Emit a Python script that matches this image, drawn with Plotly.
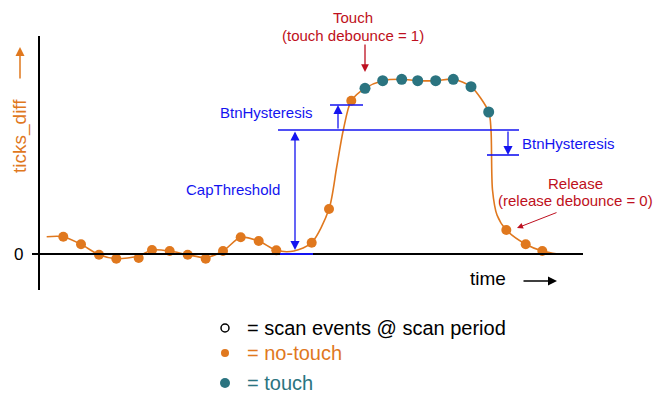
import plotly.graph_objects as go

# samples before the touch (no-touch, orange)
t_before = [24.3, 42, 60, 77.3, 99.7, 113, 130.7, 148.7, 166.7, 184, 201.7, 219.7, 237.3, 272.7, 290, 312.3]
v_before = [17.3, 9.7, -0.7, -4.7, -4, 4, 3, -0.7, -4.7, 3, 16.7, 13, 3.7, 11.3, 45, 153.3]

# samples while touched (teal)
t_touch = [326, 343.7, 362.7, 378.7, 396.7, 414.3, 432, 449.7]
v_touch = [165.7, 173.3, 174.7, 173.3, 173.3, 174.7, 167.3, 142]

# samples after release (orange)
t_after = [467.3, 486.7, 503.3]
v_after = [24, 9.7, 3]

# the smooth signal curve
t_curve = [7.7, 24.3, 42, 60, 77.3, 99.7, 113, 130.7, 148.7, 166.7, 184, 201.7, 219.7, 237.3, 255,
           272.7, 290, 297.7, 304.3, 312.3, 326, 343.7, 362.7, 378.7, 396.7, 414.3, 432, 449.7,
           452, 453.5, 458, 467.3, 486.7, 503.3, 519]
v_curve = [17.3, 17.3, 9.7, -0.7, -4.7, -2, 4, 3, -0.7, -3.5, 3, 16.7, 13, 3.7, 3,
           11.3, 45, 87, 124, 153.3, 165.7, 173.3, 174.7, 173.3, 173.3, 174.7, 167.3, 142,
           124, 64, 39, 24, 9.7, 3, 0]

cap_threshold = 124
hysteresis = 25

ORANGE = "#E0781E"
TEAL = "#2B7480"
BLUE = "#1414F0"
RED = "#BE1020"
FONT = "Arial, Liberation Sans, sans-serif"

fig = go.Figure()

fig.add_trace(go.Scatter(x=t_curve, y=v_curve, mode="lines",
                         line=dict(color=ORANGE, width=1.6, shape="spline", smoothing=0.8)))
fig.add_trace(go.Scatter(x=t_before + t_after, y=v_before + v_after, mode="markers",
                         marker=dict(color=ORANGE, size=10)))
fig.add_trace(go.Scatter(x=t_touch, y=v_touch, mode="markers",
                         marker=dict(color=TEAL, size=11)))

# axes
fig.add_shape(type="line", x0=-7, x1=544, y0=0, y1=0, line=dict(color="black", width=2))
fig.add_shape(type="line", x0=0, x1=0, y0=-36, y1=218, line=dict(color="black", width=2))
fig.add_shape(type="line", x0=241, x1=274, y0=0, y1=0, line=dict(color=BLUE, width=2))

# threshold lines
th_on = cap_threshold + hysteresis
th_off = cap_threshold - hysteresis
fig.add_shape(type="line", x0=239, x1=480, y0=cap_threshold, y1=cap_threshold, line=dict(color=BLUE, width=1.6))
fig.add_shape(type="line", x0=291, x1=324, y0=th_on, y1=th_on, line=dict(color=BLUE, width=1.6))
fig.add_shape(type="line", x0=448, x1=480, y0=th_off, y1=th_off, line=dict(color=BLUE, width=1.6))

ann = []

def arrow(x, y, ax, ay, color, both=False, size=1.4, width=1.3):
    ann.append(dict(x=x, y=y, ax=ax, ay=ay, xref="x", yref="y", axref="x", ayref="y",
                    text="", showarrow=True, arrowhead=2, arrowsize=size, arrowwidth=width,
                    arrowcolor=color, arrowside="end+start" if both else "end"))

arrow(256, 4, 256, cap_threshold, BLUE, both=True)
arrow(299, th_on, 299, cap_threshold, BLUE)
arrow(469, th_off, 469, cap_threshold, BLUE)
arrow(326, 182, 326, 211, RED, size=1.2)
arrow(478, 26, 519, 42, RED, size=1.2, width=1)
arrow(518, -27, 483, -27, "black", size=1.2, width=1.5)
arrow(-19, 207, -19, 174, ORANGE, size=1.2, width=1.5)

def label(x, y, text, color, size=15, anchor="center", angle=0):
    ann.append(dict(x=x, y=y, xref="x", yref="y", text=text, showarrow=False,
                    font=dict(family=FONT, size=size, color=color), xanchor=anchor,
                    textangle=angle))

label(276, 142, "BtnHysteresis", BLUE, anchor="right")
label(243, 65, "CapThreshold", BLUE, anchor="right")
label(481, 111, "BtnHysteresis", BLUE, anchor="left")
label(313.5, 237, "Touch", RED)
label(313.5, 219, "(touch debounce = 1)", RED)
label(536, 71, "Release", RED)
label(536, 54, "(release debounce = 0)", RED)
label(449, -24, "time", "black", size=19)
label(-19, 118, "ticks_diff", ORANGE, size=19, angle=-90)
label(-14, 0, "0", "black", size=17, anchor="right")

# key
key_y = [-74, -99, -129]
fig.add_trace(go.Scatter(x=[186], y=[key_y[0]], mode="markers",
                         marker=dict(color="white", size=8, line=dict(color="black", width=1.5))))
fig.add_trace(go.Scatter(x=[186], y=[key_y[1]], mode="markers",
                         marker=dict(color=ORANGE, size=8)))
fig.add_trace(go.Scatter(x=[186], y=[key_y[2]], mode="markers",
                         marker=dict(color=TEAL, size=10)))
label(206, key_y[0], "= scan events @ scan period", "black", size=20, anchor="left")
label(206, key_y[1], "= no-touch", ORANGE, size=20, anchor="left")
label(206, key_y[2], "= touch", TEAL, size=20, anchor="left")

fig.update_layout(
    width=654, height=394,
    margin=dict(l=0, r=0, t=0, b=0),
    paper_bgcolor="white", plot_bgcolor="white",
    showlegend=False,
    hovermode=False,
    annotations=ann,
    xaxis=dict(range=[-39, 615], visible=False, fixedrange=True),
    yaxis=dict(range=[-140, 254], visible=False, fixedrange=True),
)

# page body has an 8px margin by default; drop it so the figure fills the window
fig.write_html("out.html", config={"displayModeBar": False},
               post_script="document.body.style.margin='0';")
